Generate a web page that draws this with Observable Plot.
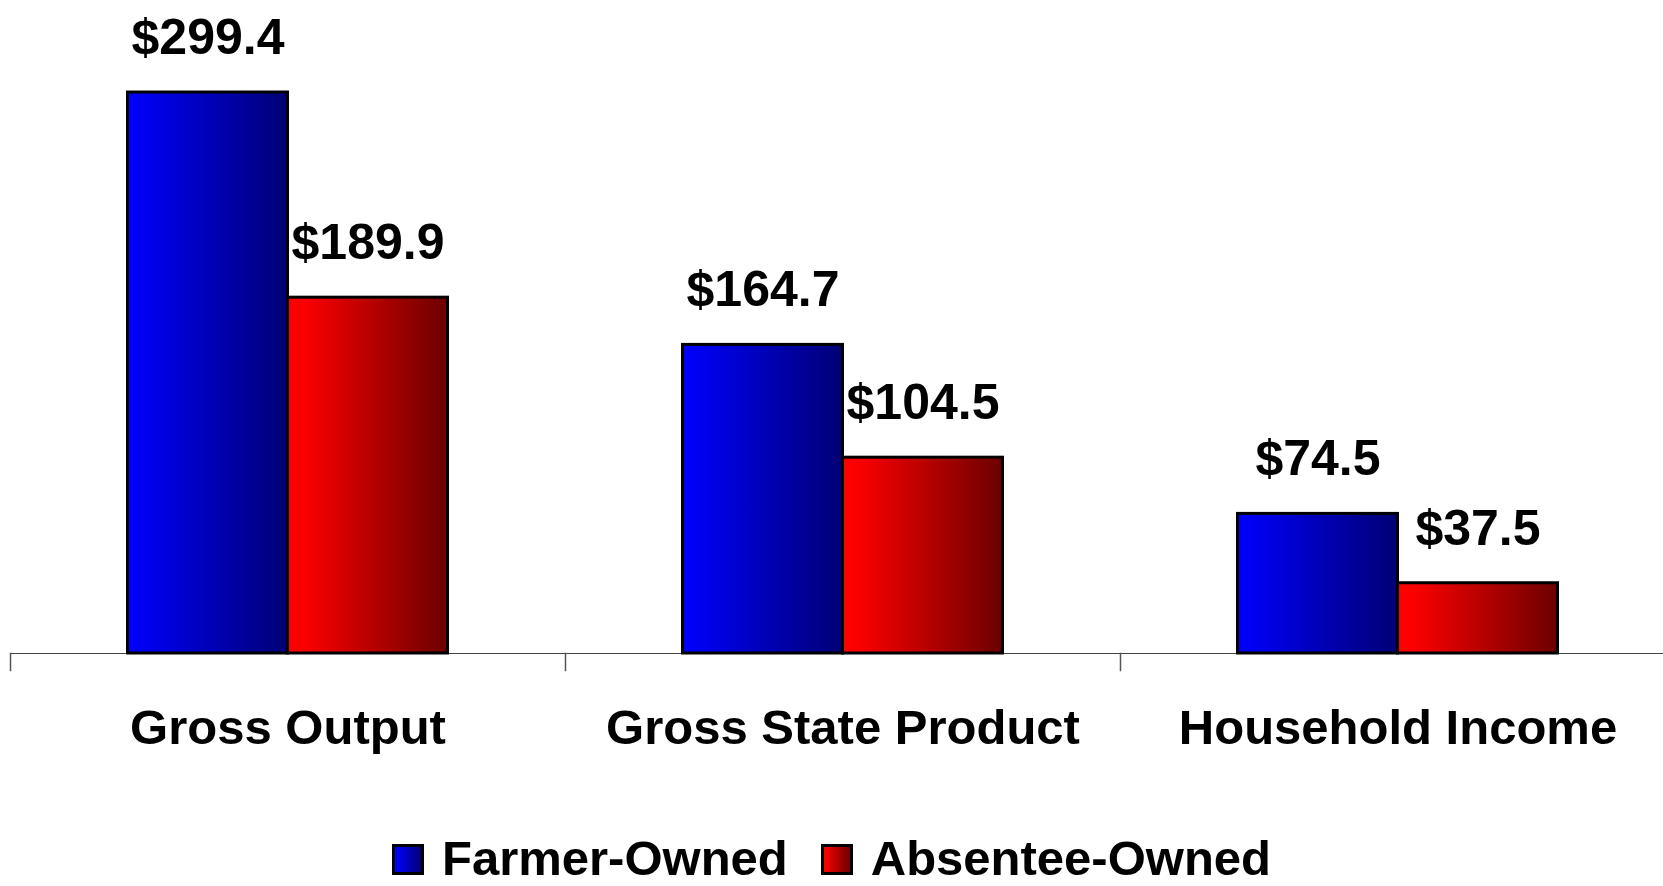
<!DOCTYPE html>
<html>
<head>
<meta charset="utf-8">
<script src="https://cdn.jsdelivr.net/npm/d3@7"></script>
<script src="https://cdn.jsdelivr.net/npm/@observablehq/plot@0.6"></script>
<style>
  html, body { margin: 0; padding: 0; background: #fff; overflow: hidden; }
  body { width: 1663px; height: 886px; font-family: "Liberation Sans", Arial, sans-serif; }
  #chart svg { display: block; overflow: hidden; }
  #legend { display: flex; justify-content: center; align-items: flex-start; padding-top: 0; height: 56px; }
  .item { display: flex; align-items: flex-start; }
  .sw { box-sizing: border-box; width: 32px; height: 31px; border: 3px solid #000; margin-top: 14px; margin-right: 18px; }
  .lab { font-size: 49px; line-height: 56px; font-weight: bold; color: #000; white-space: nowrap; }
</style>
</head>
<body>
<svg width="0" height="0" style="position:absolute">
  <defs>
    <linearGradient id="gradBlue" x1="0" y1="0" x2="1" y2="0">
      <stop offset="0" stop-color="#0000ff"/>
      <stop offset="1" stop-color="#000075"/>
    </linearGradient>
    <linearGradient id="gradRed" x1="0" y1="0" x2="1" y2="0">
      <stop offset="0" stop-color="#ff0000"/>
      <stop offset="0.1" stop-color="#fb0000"/>
      <stop offset="1" stop-color="#6c0000"/>
    </linearGradient>
  </defs>
</svg>
<div id="chart"></div>
<div id="legend"></div>
<script>
const categories = ["Gross Output", "Gross State Product", "Household Income"];
const series = ["Farmer-Owned", "Absentee-Owned"];
const farmerOwned = [299.4, 164.7, 74.5];
const absenteeOwned = [189.9, 104.5, 37.5];
const seriesFills = ["url(#gradBlue)", "url(#gradRed)"];
const legendGradients = ["linear-gradient(to right, #0000ff, #000075)", "linear-gradient(to right, #ff0000, #6c0000)"];

const data = [];
categories.forEach((c, i) => {
  data.push({category: c, series: series[0], value: farmerOwned[i]});
  data.push({category: c, series: series[1], value: absenteeOwned[i]});
});

const H = 830, marginTop = 10, marginBottom = 160, baseY = 653;

const chart = Plot.plot({
  width: 1663,
  height: H,
  marginTop,
  marginBottom,
  marginLeft: 9.5,
  marginRight: 0,
  style: {fontFamily: "Liberation Sans, Arial, sans-serif", background: "#fff"},
  fx: {domain: categories, range: [9.5, 1674.5], padding: 0, axis: null, label: null},
  x: {domain: series, paddingInner: 0, paddingOuter: 0.734, axis: null, label: null},
  y: {domain: [0, 300], range: [baseY, baseY - 300 * 1.8737], axis: null, label: null},
  color: {domain: series, range: seriesFills},
  marks: [
    Plot.ruleY([0], {stroke: "#444", strokeWidth: 1.2}),
    Plot.frame({anchor: "left", stroke: "#555", strokeWidth: 1.5, insetTop: baseY - marginTop}),
    Plot.barY(data, {fx: "category", x: "series", y: "value", fill: "series", stroke: "#000", strokeWidth: 3}),
    Plot.text(data, {fx: "category", x: "series", y: "value", text: d => "$" + d.value.toFixed(1),
      lineAnchor: "bottom", dy: -38.5, fontSize: 50, fontWeight: "bold", fill: "#000"}),
    Plot.axisFx({anchor: "bottom", tickSize: 0, tickPadding: 39, fontSize: 49, fontWeight: "bold", label: null, fill: "#000"})
  ]
});
document.getElementById("chart").appendChild(chart);

const legend = document.getElementById("legend");
series.forEach((s, i) => {
  const item = document.createElement("div");
  item.className = "item";
  if (i > 0) item.style.marginLeft = "33px";
  const sw = document.createElement("div");
  sw.className = "sw";
  sw.style.background = legendGradients[i];
  const lab = document.createElement("div");
  lab.className = "lab";
  lab.textContent = s;
  item.appendChild(sw);
  item.appendChild(lab);
  legend.appendChild(item);
});
</script>
</body>
</html>
